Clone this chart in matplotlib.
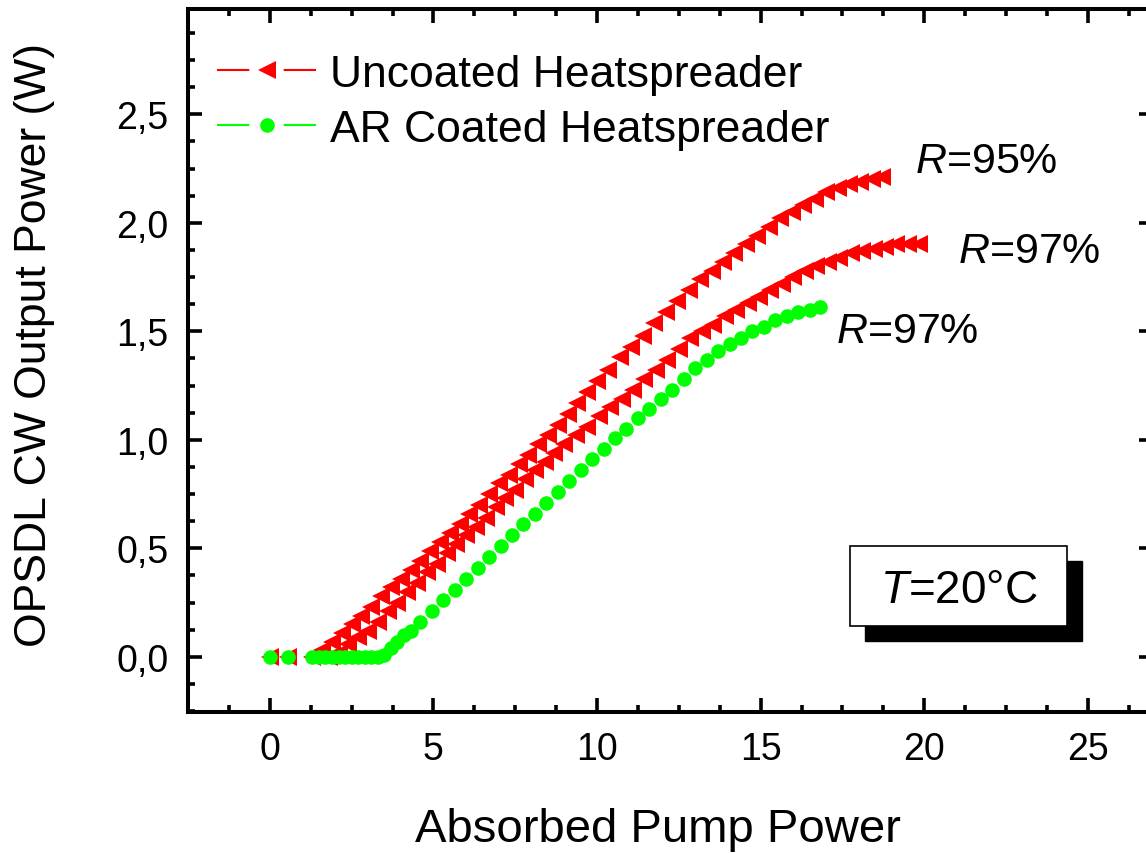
import matplotlib.pyplot as plt
from matplotlib.lines import Line2D
from matplotlib.patches import Rectangle
from matplotlib.ticker import MultipleLocator, FuncFormatter

plt.rcParams['font.family'] = ['Liberation Sans', 'DejaVu Sans']
plt.rcParams['mathtext.fontset'] = 'custom'
plt.rcParams['mathtext.it'] = 'Liberation Sans:italic'
plt.rcParams['mathtext.rm'] = 'Liberation Sans'

# Uncoated heatspreader, R=95%
x_unc95 = [0, 0.55, 1.3, 1.6, 1.9, 2.2, 2.5, 2.8, 3.1, 3.4, 3.7, 4.0, 4.3, 4.6, 4.9,
           5.2, 5.5, 5.8, 6.1, 6.4, 6.7, 7.0, 7.3, 7.6, 7.9, 8.2, 8.5, 8.8, 9.1, 9.4,
           9.7, 10.0, 10.35, 10.7, 11.05, 11.4, 11.75, 12.1, 12.45, 12.8, 13.15, 13.5,
           13.85, 14.2, 14.55, 14.9, 15.25, 15.6, 15.95, 16.3, 16.65, 17.0, 17.35, 17.7,
           18.05, 18.4, 18.7]
y_unc95 = [0, 0, 0.0, 0.03, 0.07, 0.11, 0.15, 0.19, 0.23, 0.28, 0.32, 0.36, 0.40, 0.44, 0.49,
           0.53, 0.57, 0.61, 0.66, 0.70, 0.75, 0.80, 0.84, 0.89, 0.93, 0.98, 1.02, 1.07, 1.12, 1.17,
           1.22, 1.27, 1.32, 1.38, 1.43, 1.48, 1.54, 1.59, 1.64, 1.69, 1.74, 1.78,
           1.82, 1.86, 1.90, 1.94, 1.98, 2.02, 2.05, 2.08, 2.11, 2.14, 2.16, 2.18,
           2.19, 2.20, 2.21]

# Uncoated heatspreader, R=97%
x_unc97 = [1.8, 2.1, 2.4, 2.7, 3.0, 3.3, 3.6, 3.9, 4.2, 4.5, 4.8, 5.1, 5.4, 5.7, 6.0,
           6.3, 6.6, 6.9, 7.2, 7.5, 7.8, 8.1, 8.4, 8.7, 9.0, 9.35, 9.7, 10.05, 10.4,
           10.75, 11.1, 11.45, 11.8, 12.15, 12.5, 12.85, 13.2, 13.55, 13.9, 14.25,
           14.6, 14.95, 15.3, 15.65, 16.0, 16.35, 16.7, 17.05, 17.4, 17.75, 18.1,
           18.45, 18.8, 19.15, 19.5, 19.85]
y_unc97 = [0.0, 0.02, 0.06, 0.09, 0.12, 0.16, 0.21, 0.25, 0.30, 0.34, 0.39, 0.43, 0.48, 0.52, 0.56,
           0.60, 0.64, 0.69, 0.73, 0.77, 0.82, 0.86, 0.90, 0.94, 0.98, 1.02, 1.06, 1.11, 1.15,
           1.19, 1.23, 1.28, 1.32, 1.37, 1.42, 1.47, 1.50, 1.53, 1.57, 1.60,
           1.63, 1.66, 1.69, 1.72, 1.75, 1.78, 1.80, 1.82, 1.84, 1.86, 1.87,
           1.88, 1.89, 1.90, 1.90, 1.90]

# AR coated heatspreader, R=97%
x_ar97 = [0, 0.55, 1.3, 1.5, 1.7, 1.9, 2.1, 2.3, 2.5, 2.7, 2.9, 3.1, 3.3, 3.5, 3.7, 3.9,
          4.1, 4.3, 4.6, 4.95, 5.3, 5.65, 6.0, 6.35, 6.7, 7.05, 7.4, 7.75, 8.1, 8.45,
          8.8, 9.15, 9.5, 9.85, 10.2, 10.55, 10.9, 11.25, 11.6, 11.95, 12.3, 12.65,
          13.0, 13.35, 13.7, 14.05, 14.4, 14.75, 15.1, 15.45, 15.8, 16.15, 16.5, 16.8]
y_ar97 = [0, 0, 0, 0, 0, 0, 0, 0, 0, 0, 0, 0, 0, 0.01, 0.04, 0.07,
          0.10, 0.12, 0.16, 0.21, 0.26, 0.31, 0.36, 0.41, 0.46, 0.51, 0.56, 0.61, 0.66, 0.71,
          0.76, 0.81, 0.86, 0.91, 0.96, 1.01, 1.05, 1.10, 1.14, 1.19, 1.23, 1.28,
          1.33, 1.37, 1.41, 1.44, 1.47, 1.50, 1.52, 1.55, 1.57, 1.59, 1.60, 1.61]

RED = '#FF0000'
GREEN = '#00FF00'

W, H = 1146, 854
fig = plt.figure(figsize=(W / 100, H / 100), dpi=100)
ax = fig.add_axes([188 / W, 1 - 713 / H, (1153 - 188) / W, (713 - 10) / H])

ax.plot(x_unc95, y_unc95, ls='none', marker='<', ms=12.5, color=RED, mew=0)
ax.plot(x_unc97, y_unc97, ls='none', marker='<', ms=12.5, color=RED, mew=0)
ax.plot(x_ar97, y_ar97, ls='none', marker='o', ms=10.5, color=GREEN, mew=0)

ax.set_xlim(-2.5, 26.99)
ax.set_ylim(-0.254, 2.985)

ax.xaxis.set_major_locator(MultipleLocator(5))
ax.xaxis.set_minor_locator(MultipleLocator(1.25))
ax.yaxis.set_major_locator(MultipleLocator(0.5))
ax.yaxis.set_minor_locator(MultipleLocator(0.125))
ax.xaxis.set_major_formatter(FuncFormatter(lambda v, p: f"{v:.0f}"))
ax.yaxis.set_major_formatter(FuncFormatter(lambda v, p: f"{v:.1f}".replace('.', ',')))

ax.tick_params(which='both', direction='in', top=True, right=True, width=2.6)
ax.tick_params(which='major', length=10, labelsize=27)
ax.tick_params(which='minor', length=5)
ax.tick_params(axis='x', pad=14)
ax.tick_params(axis='y', pad=14)
for s in ax.spines.values():
    s.set_linewidth(2.9)

# axis titles
fig.text(35 / W, 1 - 345 / H, 'OPSDL CW Output Power (W)', rotation=90,
         ha='center', va='center', fontsize=32)
fig.text(658 / W, 1 - 830 / H, 'Absorbed Pump Power', ha='center', va='center', fontsize=34)

# legend
handles = [
    Line2D([], [], color=RED, lw=1.5, dashes=(15.5, 16.5), marker='<', ms=12.5, mew=0),
    Line2D([], [], color=GREEN, lw=1.5, dashes=(15.5, 16.5), marker='o', ms=10.5, mew=0),
]
ax.legend(handles, ['Uncoated Heatspreader', 'AR Coated Heatspreader'],
          loc='upper left', bbox_to_anchor=(217 / W, 1 - 55 / H),
          bbox_transform=fig.transFigure, frameon=False, fontsize=32,
          handlelength=2.25, handletextpad=0.3, borderpad=0, borderaxespad=0,
          labelspacing=0.31, numpoints=1)

# curve labels
fig.text(915 / W, 1 - 173 / H, r'$\it{R}$=95%', fontsize=31, va='baseline')
fig.text(958 / W, 1 - 263 / H, r'$\it{R}$=97%', fontsize=31, va='baseline')
fig.text(836 / W, 1 - 343 / H, r'$\it{R}$=97%', fontsize=31, va='baseline')

# temperature box with shadow
bx, by, bw, bh = 850, 547, 217, 80
fig.patches.append(Rectangle(((bx + 15) / W, 1 - (by + bh + 15) / H), bw / W, bh / H,
                             transform=fig.transFigure, facecolor='black', edgecolor='black'))
fig.patches.append(Rectangle((bx / W, 1 - (by + bh) / H), bw / W, bh / H,
                             transform=fig.transFigure, facecolor='white', edgecolor='black', lw=1.2))
fig.text((bx + bw / 2) / W, 1 - 603 / H, r'$\it{T}$=20°C', fontsize=33, ha='center', va='baseline')

fig.savefig('out.png', dpi=100)
